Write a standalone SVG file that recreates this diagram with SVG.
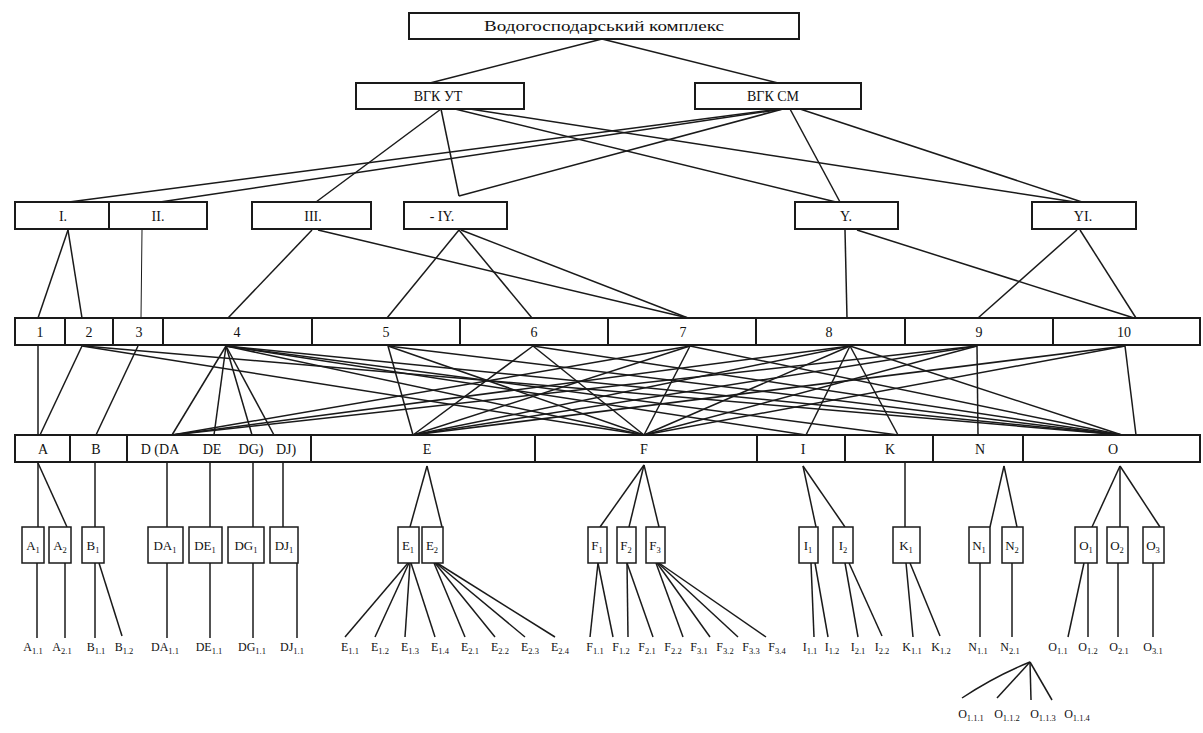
<svg xmlns="http://www.w3.org/2000/svg" width="1203" height="733" viewBox="0 0 1203 733">
<style>
.bx{fill:#fff;stroke:#1a1a1a;stroke-width:2}
.sb{fill:#fff;stroke:#1a1a1a;stroke-width:1.5}
.ln{stroke:#1a1a1a;stroke-width:1.5;fill:none}
.t{font-family:"Liberation Serif","DejaVu Serif",serif;font-size:14px;text-anchor:middle;fill:#111}
.s{font-family:"Liberation Serif","DejaVu Serif",serif;font-size:13px;text-anchor:middle;fill:#111}
.b{font-family:"Liberation Serif","DejaVu Serif",serif;font-size:12px;text-anchor:middle;fill:#111}
.u{font-size:8.5px}
</style>
<rect width="1203" height="733" fill="#fff"/>
<g id="connectors" class="ln">
<line x1="602" y1="39" x2="430" y2="83"/><line x1="602" y1="39" x2="778" y2="83"/>
<line x1="441" y1="109" x2="316" y2="202"/><line x1="441" y1="109" x2="459" y2="196"/>
<line x1="783" y1="109" x2="459" y2="196"/><line x1="780" y1="109" x2="69" y2="202"/>
<line x1="783" y1="109" x2="160" y2="202"/><line x1="455" y1="109" x2="836" y2="202"/>
<line x1="470" y1="109" x2="1075" y2="202"/><line x1="790" y1="109" x2="840" y2="202"/>
<line x1="800" y1="109" x2="1082" y2="202"/>
<line x1="68" y1="230" x2="38" y2="318"/><line x1="68" y1="230" x2="82" y2="318"/>
<line x1="142" y1="230" x2="141" y2="318" stroke-width="1"/>
<line x1="312" y1="230" x2="228" y2="318"/><line x1="318" y1="230" x2="688" y2="318"/>
<line x1="459" y1="230" x2="387" y2="318"/><line x1="459" y1="230" x2="532" y2="318"/><line x1="461" y1="230" x2="688" y2="318"/>
<line x1="845" y1="230" x2="847" y2="318"/><line x1="857" y1="230" x2="1134" y2="318"/>
<line x1="1077" y1="230" x2="978" y2="318"/><line x1="1080" y1="230" x2="1136" y2="318"/>
<line x1="38" y1="346" x2="38" y2="435"/><line x1="82" y1="346" x2="40" y2="435"/><line x1="138" y1="346" x2="96" y2="435"/>
<line x1="82" y1="346" x2="644" y2="435"/><line x1="84" y1="346" x2="1122" y2="435"/>
<line x1="226" y1="346" x2="172" y2="435"/><line x1="226" y1="346" x2="214" y2="435"/><line x1="226" y1="346" x2="252" y2="435"/><line x1="226" y1="346" x2="274" y2="435"/>
<line x1="226" y1="346" x2="644" y2="435"/><line x1="226" y1="346" x2="806" y2="435"/><line x1="226" y1="346" x2="898" y2="435"/><line x1="226" y1="346" x2="1122" y2="435"/>
<line x1="388" y1="346" x2="413" y2="435"/><line x1="388" y1="346" x2="644" y2="435"/><line x1="388" y1="346" x2="1122" y2="435"/>
<line x1="533" y1="346" x2="413" y2="435"/><line x1="533" y1="346" x2="644" y2="435"/><line x1="533" y1="346" x2="1122" y2="435"/>
<line x1="690" y1="346" x2="172" y2="435"/><line x1="690" y1="346" x2="413" y2="435"/><line x1="690" y1="346" x2="644" y2="435"/><line x1="690" y1="346" x2="1122" y2="435"/>
<line x1="850" y1="346" x2="172" y2="435"/><line x1="850" y1="346" x2="413" y2="435"/><line x1="850" y1="346" x2="644" y2="435"/><line x1="850" y1="346" x2="806" y2="435"/><line x1="850" y1="346" x2="898" y2="435"/><line x1="850" y1="346" x2="1122" y2="435"/>
<line x1="977" y1="346" x2="172" y2="435"/><line x1="977" y1="346" x2="413" y2="435"/><line x1="977" y1="346" x2="644" y2="435"/><line x1="977" y1="346" x2="978" y2="435"/>
<line x1="1125" y1="346" x2="413" y2="435"/><line x1="1125" y1="346" x2="644" y2="435"/><line x1="1125" y1="346" x2="1136" y2="435"/>
<line x1="38" y1="463" x2="38" y2="527"/><line x1="38" y1="463" x2="67" y2="527"/>
<line x1="95" y1="463" x2="95" y2="527"/>
<line x1="167" y1="463" x2="167" y2="527"/><line x1="210" y1="463" x2="210" y2="527"/><line x1="253" y1="463" x2="253" y2="527"/><line x1="283" y1="463" x2="283" y2="527"/>
<line x1="427" y1="466" x2="410" y2="527"/><line x1="427" y1="466" x2="442" y2="527"/>
<line x1="644" y1="465" x2="600" y2="527"/><line x1="644" y1="465" x2="629" y2="527"/><line x1="644" y1="465" x2="659" y2="527"/>
<line x1="803" y1="466" x2="816" y2="527"/><line x1="803" y1="466" x2="845" y2="527"/>
<line x1="905" y1="463" x2="905" y2="527"/>
<line x1="1004" y1="466" x2="990" y2="527"/><line x1="1004" y1="466" x2="1017" y2="527"/>
<line x1="1120" y1="466" x2="1092" y2="527"/><line x1="1120" y1="466" x2="1120" y2="527"/><line x1="1120" y1="466" x2="1160" y2="527"/>
<line x1="37" y1="563" x2="37" y2="638"/><line x1="65" y1="563" x2="65" y2="638"/>
<line x1="95" y1="563" x2="95" y2="638"/><line x1="99" y1="563" x2="122" y2="636"/>
<line x1="167" y1="563" x2="167" y2="638"/><line x1="210" y1="563" x2="210" y2="638"/><line x1="253" y1="563" x2="253" y2="638"/><line x1="297" y1="563" x2="297" y2="638"/>
<line x1="408" y1="563" x2="345" y2="637"/><line x1="409" y1="563" x2="375" y2="637"/><line x1="410" y1="563" x2="405" y2="637"/><line x1="411" y1="563" x2="435" y2="637"/>
<line x1="434" y1="563" x2="465" y2="637"/><line x1="435" y1="563" x2="495" y2="637"/><line x1="436" y1="563" x2="525" y2="637"/><line x1="437" y1="563" x2="555" y2="637"/>
<line x1="598" y1="563" x2="590" y2="637"/><line x1="598" y1="563" x2="613" y2="637"/>
<line x1="627" y1="563" x2="628" y2="637"/><line x1="627" y1="563" x2="653" y2="637"/>
<line x1="656" y1="563" x2="683" y2="637"/><line x1="657" y1="563" x2="710" y2="637"/><line x1="658" y1="563" x2="738" y2="637"/><line x1="659" y1="563" x2="766" y2="637"/>
<line x1="811" y1="563" x2="814" y2="637"/><line x1="815" y1="563" x2="828" y2="637"/>
<line x1="845" y1="563" x2="858" y2="637"/><line x1="849" y1="563" x2="882" y2="636"/>
<line x1="906" y1="563" x2="913" y2="637"/><line x1="910" y1="563" x2="940" y2="636"/>
<line x1="980" y1="563" x2="980" y2="637"/><line x1="1012" y1="563" x2="1012" y2="637"/>
<line x1="1084" y1="563" x2="1068" y2="637"/><line x1="1088" y1="563" x2="1088" y2="637"/>
<line x1="1118" y1="563" x2="1118" y2="637"/><line x1="1153" y1="563" x2="1153" y2="637"/>
<path d="M1030 662Q995 676 962 698"/><line x1="1030" y1="662" x2="997" y2="698"/><line x1="1030" y1="662" x2="1031" y2="700"/><line x1="1030" y1="662" x2="1052" y2="700"/>
</g>
<g id="n-root"><rect class="bx" x="409" y="13" width="390" height="26"/><text class="t" x="604" y="31" textLength="240" lengthAdjust="spacingAndGlyphs" font-size="13">Водогосподарський комплекс</text></g>
<g id="n-vgk-ut"><rect class="bx" x="356" y="83" width="168" height="26"/><text class="t" x="438" y="101">ВГК УТ</text></g>
<g id="n-vgk-sm"><rect class="bx" x="695" y="83" width="166" height="26"/><text class="t" x="773" y="101">ВГК СМ</text></g>
<g id="n-r1"><rect class="bx" x="15" y="202" width="94" height="27"/><text class="t" x="63" y="221">I.</text></g>
<g id="n-r2"><rect class="bx" x="109" y="202" width="98" height="27"/><text class="t" x="158" y="221">II.</text></g>
<g id="n-r3"><rect class="bx" x="252" y="202" width="119" height="27"/><text class="t" x="313" y="221">III.</text></g>
<g id="n-r4"><rect class="bx" x="404" y="202" width="103" height="27"/><text class="t" x="442" y="221">-  IY.</text></g>
<g id="n-r5"><rect class="bx" x="795" y="202" width="103" height="27"/><text class="t" x="846" y="221">Y.</text></g>
<g id="n-r6"><rect class="bx" x="1032" y="202" width="104" height="27"/><text class="t" x="1083" y="221">YI.</text></g>
<g id="n-1"><rect class="bx" x="15" y="318" width="50" height="27"/><text class="t" x="40" y="337">1</text></g>
<g id="n-2"><rect class="bx" x="65" y="318" width="48" height="27"/><text class="t" x="89" y="337">2</text></g>
<g id="n-3"><rect class="bx" x="113" y="318" width="50" height="27"/><text class="t" x="139" y="337">3</text></g>
<g id="n-4"><rect class="bx" x="163" y="318" width="149" height="27"/><text class="t" x="237" y="337">4</text></g>
<g id="n-5"><rect class="bx" x="312" y="318" width="148" height="27"/><text class="t" x="386" y="337">5</text></g>
<g id="n-6"><rect class="bx" x="460" y="318" width="148" height="27"/><text class="t" x="534" y="337">6</text></g>
<g id="n-7"><rect class="bx" x="608" y="318" width="148" height="27"/><text class="t" x="683" y="337">7</text></g>
<g id="n-8"><rect class="bx" x="756" y="318" width="149" height="27"/><text class="t" x="829" y="337">8</text></g>
<g id="n-9"><rect class="bx" x="905" y="318" width="148" height="27"/><text class="t" x="979" y="337">9</text></g>
<g id="n-10"><rect class="bx" x="1053" y="318" width="147" height="27"/><text class="t" x="1124" y="337">10</text></g>
<g id="n-A"><rect class="bx" x="15" y="435" width="55" height="27"/><text class="t" x="43" y="454">A</text></g>
<g id="n-B"><rect class="bx" x="70" y="435" width="57" height="27"/><text class="t" x="96" y="454">B</text></g>
<g id="n-D"><rect class="bx" x="127" y="435" width="184" height="27"/><text class="t" x="160" y="454">D (DA</text><text class="t" x="212" y="454">DE</text><text class="t" x="251" y="454">DG)</text><text class="t" x="286" y="454">DJ)</text></g>
<g id="n-E"><rect class="bx" x="311" y="435" width="224" height="27"/><text class="t" x="427" y="454">E</text></g>
<g id="n-F"><rect class="bx" x="535" y="435" width="222" height="27"/><text class="t" x="644" y="454">F</text></g>
<g id="n-I"><rect class="bx" x="757" y="435" width="88" height="27"/><text class="t" x="803" y="454">I</text></g>
<g id="n-K"><rect class="bx" x="845" y="435" width="88" height="27"/><text class="t" x="890" y="454">K</text></g>
<g id="n-N"><rect class="bx" x="933" y="435" width="90" height="27"/><text class="t" x="980" y="454">N</text></g>
<g id="n-O"><rect class="bx" x="1023" y="435" width="177" height="27"/><text class="t" x="1113" y="454">O</text></g>
<g id="n-A1"><rect class="sb" x="22" y="527" width="22" height="36"/><text class="s" x="33" y="550">A<tspan class="u" dy="3">1</tspan></text></g>
<g id="n-A2"><rect class="sb" x="49" y="527" width="22" height="36"/><text class="s" x="60" y="550">A<tspan class="u" dy="3">2</tspan></text></g>
<g id="n-B1"><rect class="sb" x="82" y="527" width="22" height="36"/><text class="s" x="93" y="550">B<tspan class="u" dy="3">1</tspan></text></g>
<g id="n-DA1"><rect class="sb" x="148" y="527" width="35" height="36"/><text class="s" x="165" y="550">DA<tspan class="u" dy="3">1</tspan></text></g>
<g id="n-DE1"><rect class="sb" x="189" y="527" width="33" height="36"/><text class="s" x="205" y="550">DE<tspan class="u" dy="3">1</tspan></text></g>
<g id="n-DG1"><rect class="sb" x="228" y="527" width="36" height="36"/><text class="s" x="246" y="550">DG<tspan class="u" dy="3">1</tspan></text></g>
<g id="n-DJ1"><rect class="sb" x="270" y="527" width="28" height="36"/><text class="s" x="284" y="550">DJ<tspan class="u" dy="3">1</tspan></text></g>
<g id="n-E1"><rect class="sb" x="398" y="527" width="21" height="36"/><text class="s" x="408" y="550">E<tspan class="u" dy="3">1</tspan></text></g>
<g id="n-E2"><rect class="sb" x="422" y="527" width="21" height="36"/><text class="s" x="432" y="550">E<tspan class="u" dy="3">2</tspan></text></g>
<g id="n-F1"><rect class="sb" x="588" y="527" width="19" height="36"/><text class="s" x="597" y="550">F<tspan class="u" dy="3">1</tspan></text></g>
<g id="n-F2"><rect class="sb" x="617" y="527" width="19" height="36"/><text class="s" x="626" y="550">F<tspan class="u" dy="3">2</tspan></text></g>
<g id="n-F3"><rect class="sb" x="646" y="527" width="19" height="36"/><text class="s" x="655" y="550">F<tspan class="u" dy="3">3</tspan></text></g>
<g id="n-I1"><rect class="sb" x="799" y="527" width="19" height="36"/><text class="s" x="808" y="550">I<tspan class="u" dy="3">1</tspan></text></g>
<g id="n-I2"><rect class="sb" x="833" y="527" width="20" height="36"/><text class="s" x="843" y="550">I<tspan class="u" dy="3">2</tspan></text></g>
<g id="n-K1"><rect class="sb" x="893" y="527" width="27" height="36"/><text class="s" x="906" y="550">K<tspan class="u" dy="3">1</tspan></text></g>
<g id="n-N1"><rect class="sb" x="969" y="527" width="21" height="36"/><text class="s" x="979" y="550">N<tspan class="u" dy="3">1</tspan></text></g>
<g id="n-N2"><rect class="sb" x="1002" y="527" width="21" height="36"/><text class="s" x="1012" y="550">N<tspan class="u" dy="3">2</tspan></text></g>
<g id="n-O1"><rect class="sb" x="1075" y="527" width="22" height="36"/><text class="s" x="1086" y="550">O<tspan class="u" dy="3">1</tspan></text></g>
<g id="n-O2"><rect class="sb" x="1107" y="527" width="21" height="36"/><text class="s" x="1117" y="550">O<tspan class="u" dy="3">2</tspan></text></g>
<g id="n-O3"><rect class="sb" x="1143" y="527" width="21" height="36"/><text class="s" x="1153" y="550">O<tspan class="u" dy="3">3</tspan></text></g>
<g id="leaves" class="b">
<text x="33" y="651">A<tspan class="u" dy="3">1.1</tspan></text><text x="62" y="651">A<tspan class="u" dy="3">2.1</tspan></text><text x="96" y="651">B<tspan class="u" dy="3">1.1</tspan></text><text x="124" y="651">B<tspan class="u" dy="3">1.2</tspan></text>
<text x="165" y="651">DA<tspan class="u" dy="3">1.1</tspan></text><text x="209" y="651">DE<tspan class="u" dy="3">1.1</tspan></text><text x="252" y="651">DG<tspan class="u" dy="3">1.1</tspan></text><text x="292" y="651">DJ<tspan class="u" dy="3">1.1</tspan></text>
<text x="350" y="651">E<tspan class="u" dy="3">1.1</tspan></text><text x="380" y="651">E<tspan class="u" dy="3">1.2</tspan></text><text x="410" y="651">E<tspan class="u" dy="3">1.3</tspan></text><text x="440" y="651">E<tspan class="u" dy="3">1.4</tspan></text>
<text x="470" y="651">E<tspan class="u" dy="3">2.1</tspan></text><text x="500" y="651">E<tspan class="u" dy="3">2.2</tspan></text><text x="530" y="651">E<tspan class="u" dy="3">2.3</tspan></text><text x="560" y="651">E<tspan class="u" dy="3">2.4</tspan></text>
<text x="595" y="651">F<tspan class="u" dy="3">1.1</tspan></text><text x="621" y="651">F<tspan class="u" dy="3">1.2</tspan></text><text x="647" y="651">F<tspan class="u" dy="3">2.1</tspan></text><text x="673" y="651">F<tspan class="u" dy="3">2.2</tspan></text>
<text x="699" y="651">F<tspan class="u" dy="3">3.1</tspan></text><text x="725" y="651">F<tspan class="u" dy="3">3.2</tspan></text><text x="751" y="651">F<tspan class="u" dy="3">3.3</tspan></text><text x="777" y="651">F<tspan class="u" dy="3">3.4</tspan></text>
<text x="810" y="651">I<tspan class="u" dy="3">1.1</tspan></text><text x="832" y="651">I<tspan class="u" dy="3">1.2</tspan></text><text x="858" y="651">I<tspan class="u" dy="3">2.1</tspan></text><text x="882" y="651">I<tspan class="u" dy="3">2.2</tspan></text>
<text x="912" y="651">K<tspan class="u" dy="3">1.1</tspan></text><text x="941" y="651">K<tspan class="u" dy="3">1.2</tspan></text><text x="978" y="651">N<tspan class="u" dy="3">1.1</tspan></text><text x="1010" y="651">N<tspan class="u" dy="3">2.1</tspan></text>
<text x="1058" y="651">O<tspan class="u" dy="3">1.1</tspan></text><text x="1088" y="651">O<tspan class="u" dy="3">1.2</tspan></text><text x="1119" y="651">O<tspan class="u" dy="3">2.1</tspan></text><text x="1153" y="651">O<tspan class="u" dy="3">3.1</tspan></text>
<text x="971" y="718">O<tspan class="u" dy="3">1.1.1</tspan></text><text x="1007" y="718">O<tspan class="u" dy="3">1.1.2</tspan></text><text x="1043" y="718">O<tspan class="u" dy="3">1.1.3</tspan></text><text x="1077" y="718">O<tspan class="u" dy="3">1.1.4</tspan></text>
</g>
</svg>
